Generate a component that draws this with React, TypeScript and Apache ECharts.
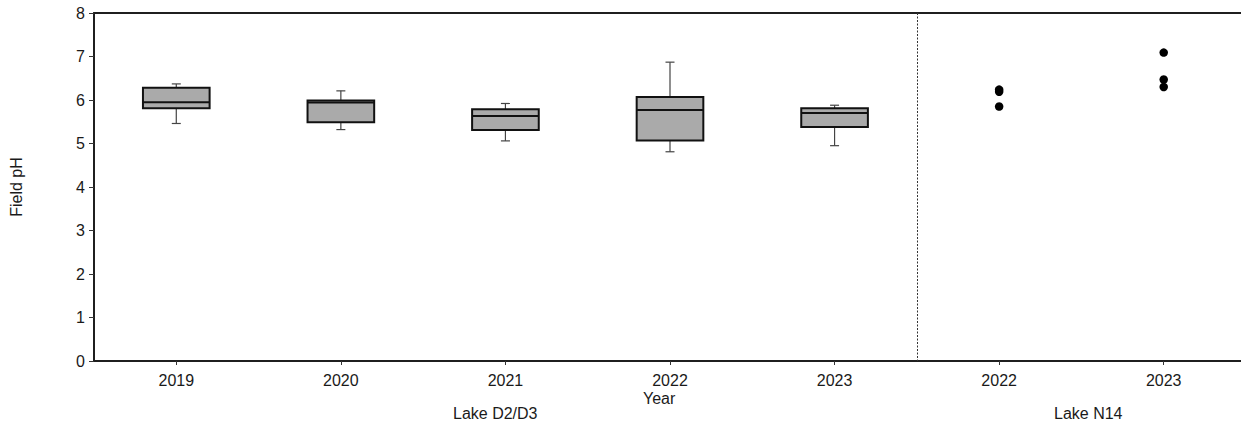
import React, { useEffect, useRef } from "react";
import * as echarts from "echarts";

const categories = ["2019", "2020", "2021", "2022", "2023", "2022", "2023"];
const yTicks = [0, 1, 2, 3, 4, 5, 6, 7, 8];

// Lake D2/D3 box plots (category index 0..4)
const whiskerLow = [5.46, 5.32, 5.06, 4.81, 4.95];
const q1 = [5.81, 5.49, 5.31, 5.07, 5.38];
const median = [5.95, 5.94, 5.63, 5.77, 5.7];
const q3 = [6.28, 5.99, 5.79, 6.07, 5.81];
const whiskerHigh = [6.37, 6.21, 5.92, 6.87, 5.88];

// Lake N14 individual values (category index 5 and 6)
const n14_2022 = [6.24, 6.19, 5.85];
const n14_2023 = [7.09, 6.47, 6.3];

const FONT = "'Liberation Sans', Arial, sans-serif";

export default function App() {
  const ref = useRef<HTMLDivElement>(null);

  useEffect(() => {
    if (!ref.current) return;
    const chart = echarts.init(ref.current, undefined, { renderer: "svg" });

    const boxData = whiskerLow.map((_, i) => [i, whiskerLow[i], q1[i], median[i], q3[i], whiskerHigh[i]]);
    const scatterData: number[][] = [
      ...n14_2022.map((v) => [5, v]),
      ...n14_2023.map((v) => [6, v]),
    ];

    const option: any = {
      animation: false,
      backgroundColor: "#ffffff",
      textStyle: { fontFamily: FONT },
      grid: { left: 94, top: 13, width: 1152, height: 348 },
      xAxis: [
        {
          type: "category",
          data: categories,
          boundaryGap: true,
          axisLine: { show: true, lineStyle: { color: "#1f1f1f", width: 2 } },
          axisTick: { show: true, alignWithLabel: true, length: 4, lineStyle: { color: "#333", width: 1 } },
          axisLabel: { color: "#1a1a1a", fontSize: 16, margin: 11, fontFamily: FONT },
          splitLine: { show: false },
        },
        {
          type: "category",
          data: categories,
          position: "top",
          axisLine: { show: true, lineStyle: { color: "#1f1f1f", width: 2 } },
          axisTick: { show: false },
          axisLabel: { show: false },
        },
      ],
      yAxis: {
        type: "value",
        min: yTicks[0],
        max: yTicks[yTicks.length - 1],
        interval: 1,
        name: "Field pH",
        nameLocation: "middle",
        nameRotate: 90,
        nameGap: 70,
        nameTextStyle: { color: "#1a1a1a", fontSize: 16, fontFamily: FONT },
        axisLine: { show: true, lineStyle: { color: "#1f1f1f", width: 2 } },
        axisTick: { show: true, length: 5, lineStyle: { color: "#333", width: 1 } },
        axisLabel: { color: "#1a1a1a", fontSize: 16, margin: 9, fontFamily: FONT },
        splitLine: { show: false },
      },
      graphic: [
        { type: "text", left: 643, top: 390, style: { text: "Year", fontSize: 16, fill: "#1a1a1a", fontFamily: FONT } },
        { type: "text", left: 453, top: 405, style: { text: "Lake D2/D3", fontSize: 16, fill: "#1a1a1a", fontFamily: FONT } },
        { type: "text", left: 1054, top: 405, style: { text: "Lake N14", fontSize: 16, fill: "#1a1a1a", fontFamily: FONT } },
      ],
      series: [
        {
          type: "custom",
          name: "divider",
          data: [[0]],
          silent: true,
          renderItem: (params: any, api: any) => {
            const a = api.coord([4, 8]);
            const b = api.coord([5, 0]);
            const x = Math.round((a[0] + b[0]) / 2) + 0.5;
            return {
              type: "line",
              shape: { x1: x, y1: a[1], x2: x, y2: b[1] },
              style: { stroke: "#333", lineWidth: 1, lineDash: [2, 1.5] },
            };
          },
        },
        {
          type: "custom",
          name: "box",
          data: boxData,
          silent: true,
          encode: { x: 0, y: [1, 2, 3, 4, 5] },
          renderItem: (params: any, api: any) => {
            const idx = api.value(0);
            const lo = api.coord([idx, api.value(1)]);
            const b1 = api.coord([idx, api.value(2)]);
            const md = api.coord([idx, api.value(3)]);
            const b3 = api.coord([idx, api.value(4)]);
            const hi = api.coord([idx, api.value(5)]);
            const band = api.size([1, 0])[0];
            const w = band * 0.405;
            const cx = lo[0];
            const cap = 9;
            const whisk = { stroke: "#444", lineWidth: 1.2 };
            return {
              type: "group",
              children: [
                { type: "line", shape: { x1: cx, y1: hi[1], x2: cx, y2: b3[1] }, style: whisk },
                { type: "line", shape: { x1: cx - cap / 2, y1: hi[1], x2: cx + cap / 2, y2: hi[1] }, style: whisk },
                { type: "line", shape: { x1: cx, y1: b1[1], x2: cx, y2: lo[1] }, style: whisk },
                { type: "line", shape: { x1: cx - cap / 2, y1: lo[1], x2: cx + cap / 2, y2: lo[1] }, style: whisk },
                {
                  type: "rect",
                  shape: { x: cx - w / 2, y: b3[1], width: w, height: b1[1] - b3[1] },
                  style: { fill: "#aaaaaa", stroke: "#111", lineWidth: 2 },
                },
                { type: "line", shape: { x1: cx - w / 2, y1: md[1], x2: cx + w / 2, y2: md[1] }, style: { stroke: "#111", lineWidth: 2 } },
              ],
            };
          },
        },
        {
          type: "scatter",
          name: "Lake N14",
          data: scatterData,
          symbol: "circle",
          symbolSize: 8.5,
          itemStyle: { color: "#000", opacity: 1 },
          silent: true,
        },
      ],
    };

    chart.setOption(option);
    return () => chart.dispose();
  }, []);

  return (
    <div style={{ position: "absolute", left: 0, top: 0, width: 1241, height: 428, overflow: "hidden", background: "#fff" }}>
      <div ref={ref} style={{ width: 1262, height: 428 }} />
    </div>
  );
}
